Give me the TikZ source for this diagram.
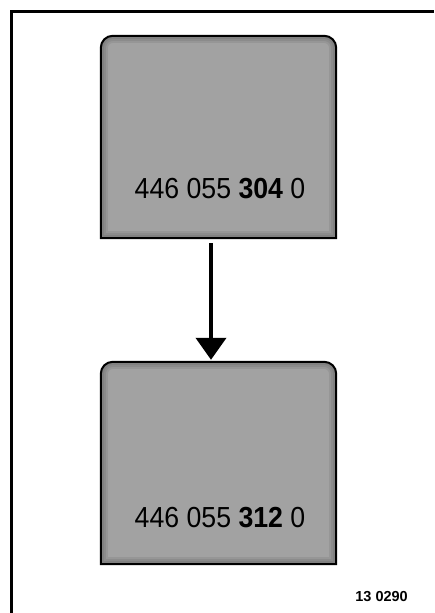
\documentclass[tikz,border=0pt]{standalone}
\usepackage{fontspec}
\setmainfont{Liberation Sans}
\newfontfamily\partfont[FakeStretch=0.92]{Liberation Sans}
\usetikzlibrary{arrows.meta}

\definecolor{relaygray}{RGB}{162,162,162}

\tikzset{
	relay/.style={minimum width=235pt, minimum height=202pt, inner sep=0pt},
	relayfill/.style={draw=black, line width=2pt, fill=relaygray},
	relayedge/.style={draw=black, opacity=0.07},
	partno/.style={font=\partfont\fontsize{29}{29}\selectfont, inner sep=0pt, anchor=base},
	flow/.style={line width=4pt, -{Triangle[width=30pt,length=22pt]}}
}

\newcommand{\relayoutline}[1]{(#1.south west) -- ([yshift=-12pt]#1.north west)
	arc[start angle=180,end angle=90,radius=12pt] -- ([xshift=-12pt]#1.north east)
	arc[start angle=90,end angle=0,radius=12pt] -- (#1.south east) -- cycle}

\begin{document}
\begin{tikzpicture}[x=1pt,y=-1pt]
	\useasboundingbox (0,0) rectangle (434,613);
	\draw[line width=3pt] (11.5,613) -- (11.5,11.5) -- (434,11.5);
	\node[relay] (r1) at (218.5,137) {};
	\node[relay] (r2) at (218.5,463) {};
	\foreach \r in {r1,r2} {
		\fill[relaygray] \relayoutline{\r};
		\begin{scope}
			\clip \relayoutline{\r};
			\foreach \w in {6,10,14}
				\draw[relayedge, line width=\w pt] \relayoutline{\r};
		\end{scope}
		\draw[relayfill, fill=none] \relayoutline{\r};
	}
	\node[partno] (t1) at ([yshift=40pt,xshift=1.5pt]r1.south) {446 055 \textbf{304} 0};
	\node[partno] (t2) at ([yshift=37pt,xshift=1.5pt]r2.south) {446 055 \textbf{312} 0};
	\draw[flow, shorten <=5pt, shorten >=2pt] ([xshift=-7.5pt]r1.south) -- ([xshift=-7.5pt]r2.north);
	\node[font=\bfseries\fontsize{14.5}{14.5}\selectfont, inner sep=0pt, anchor=base east] (ref) at (408,601) {13 0290};
\end{tikzpicture}
\end{document}
